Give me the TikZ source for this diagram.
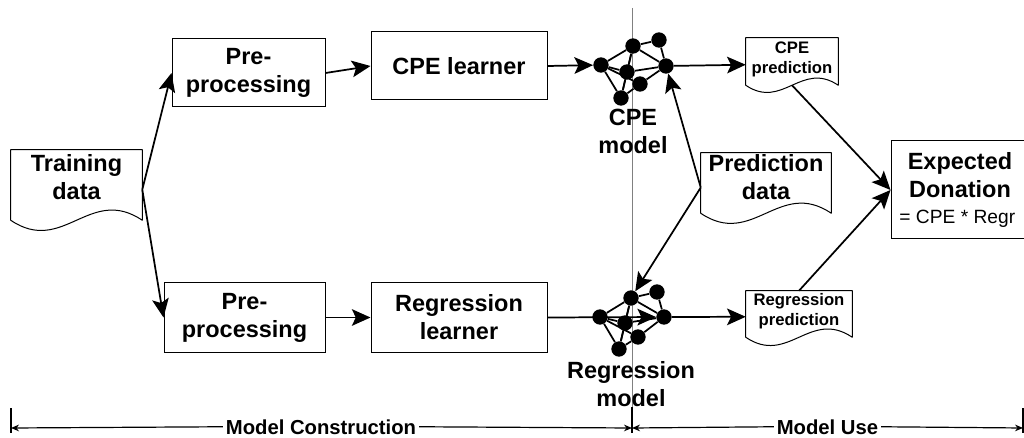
\documentclass[tikz,border=0pt]{standalone}
\usepackage{fontspec}
\setmainfont{Liberation Sans}
\usetikzlibrary{arrows.meta, calc}

\tikzset{
	bigfont/.style = {font = \fontsize{17.6}{21}\selectfont\bfseries, align = center},
	smallfont/.style = {font = \fontsize{12.5}{15}\selectfont\bfseries, align = center},
	stage/.style = {draw = black, line width = 0.75pt, inner sep = 0pt, bigfont},
	page/.style = {inner sep = 0pt, bigfont},
	smallpage/.style = {inner sep = 0pt, smallfont},
	neuron/.style = {circle, fill = black, inner sep = 0pt, minimum size = 11.5pt},
	link/.style = {line width = 1.3pt},
	flow/.style = {line width = 1.3pt, -{Stealth[length = 14pt, width = 12.5pt, inset = 3pt]}},
	span/.style = {line width = 0.9pt, -{Stealth[length = 6pt, width = 5pt]}},
}

\newcommand{\docpage}[2]{
	\draw[line width = 0.75pt, line join = round] (#1.south west) -- (#1.north west) -- (#1.north east) -- (#1.south east)
		.. controls ($(#1.south east)+(-#2*.4,-#2*.27)$) and ($(#1.south west)+(#2*.4,#2*.27)$) .. (#1.south west);
}

\newcommand{\netlinks}[1]{
	\foreach \a/\b in {l/t, l/m, l/q, l/b, t/u, t/m, t/r, u/r, m/r, m/b, q/r, q/b, t/b}
		\draw[link] (#1\a) -- (#1\b);
}

\begin{document}
\begin{tikzpicture}[x = 0.75pt, y = -0.75pt]
	\useasboundingbox (0,0) rectangle (1024,438);

	\draw[color = black!50, line width = 0.75pt]
	(632,8) coordinate(divtop) -- (632,407) coordinate(divlow);
	\draw[color = black, line width = 1pt]
	(divlow) -- (632,433) coordinate(divend);
	\draw[color = black, line width = 0.9pt]
	(11,408) coordinate(lefttop) -- (11,433) coordinate(leftend)
	(1023,408) coordinate(righttop) -- (1023,433) coordinate(rightend);
	\coordinate (spanleft) at (11,428);
	\coordinate (spanmid) at (632,428);
	\coordinate (spanright) at (1023,428);

	\path
	(76.5,185) node[page, minimum width = 98.25pt, minimum height = 52.5pt, text depth = 12pt](train){Training\\data}
	(248.5,73) node[stage, minimum width = 114.75pt, minimum height = 51pt](preA){Pre-\\processing}
	(244.5,317.5) node[stage, minimum width = 120.75pt, minimum height = 51.75pt](preB){Pre-\\processing}
	(459,66) node[stage, minimum width = 132pt, minimum height = 51pt](learnA){CPE learner}
	(459,317.5) node[stage, minimum width = 132pt, minimum height = 51.75pt](learnB){Regression\\learner}
	(766,183) node[page, minimum width = 97.5pt, minimum height = 45pt, text depth = 9pt](pred){Prediction\\data}
	(792,61.5) node[smallpage, minimum width = 69pt, minimum height = 35.25pt, text depth = 6pt](docA){CPE\\prediction}
	(799,314) node[smallpage, minimum width = 79.5pt, minimum height = 34.5pt, text depth = 7pt](docB){Regression\\prediction}
	(960,190) node[stage, minimum width = 103.5pt, minimum height = 73.5pt](donate){Expected\\Donation\\[-1pt]{\fontsize{14.4}{16}\selectfont\mdseries = CPE * Regr\hspace*{4pt}}}
	(633,131.5) node[page](nameA){CPE\\model}
	(631,384) node[page](nameB){Regression\\model}
	(321,434) node[anchor = base, inner xsep = 2pt, inner ysep = 0pt, font = \fontsize{15.2}{18}\selectfont\bfseries](build){Model Construction}
	(827.5,434) node[anchor = base, inner xsep = 2pt, inner ysep = 0pt, font = \fontsize{15.2}{18}\selectfont\bfseries](use){Model Use};

	\docpage{train}{131}
	\docpage{pred}{130}
	\docpage{docA}{92}
	\docpage{docB}{106}

	\path
	(601,65) node[neuron](Al){}
	(633,46) node[neuron](At){}
	(659,40) node[neuron](Au){}
	(666,66) node[neuron](Ar){}
	(627,72) node[neuron](Am){}
	(640,84) node[neuron](Aq){}
	(621,98) node[neuron](Ab){}
	(600,317) node[neuron](Bl){}
	(631,298) node[neuron](Bt){}
	(657,292) node[neuron](Bu){}
	(664,317) node[neuron](Br){}
	(625,323) node[neuron](Bm){}
	(638,337) node[neuron](Bq){}
	(619,349) node[neuron](Bb){};

	\netlinks{A}
	\netlinks{B}

	\draw[flow] (train.-4) -- (preA.west);
	\draw[flow] (train.-4) -- (preB.west);
	\draw[flow] (preA.east) -- (learnA.west);
	\draw[flow] (preB.east) -- (learnB.west);
	\draw[flow] (learnA.east) -- (Al);
	\draw[flow] (learnB.east) -- (Br);
	\draw[flow] (Ar) -- (docA.184);
	\draw[flow] (Br) -- (docB.183);
	\draw[flow] (pred.184) -- (Ar);
	\draw[flow] (pred.184) -- (Bt);
	\draw[flow] (docA.south) -- (donate.west);
	\draw[flow] (docB.north) -- (donate.west);

	\draw[span] (build.west) -- (spanleft);
	\draw[span] (build.east) -- (spanmid);
	\draw[span] (use.west) -- (spanmid);
	\draw[span] (use.east) -- (spanright);
\end{tikzpicture}
\end{document}
